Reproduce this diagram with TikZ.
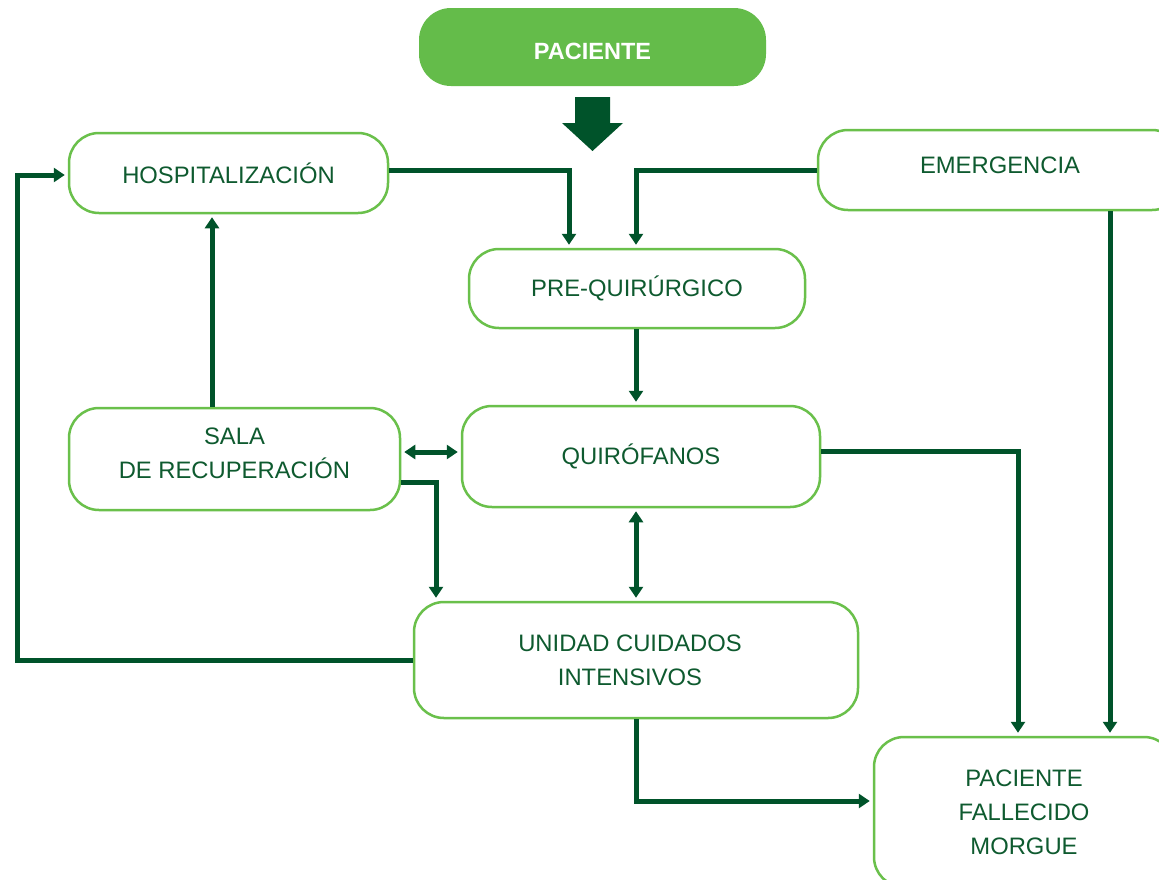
\documentclass[tikz,border=0pt]{standalone}
\usepackage{fontspec}
\setmainfont{Liberation Sans}
\usetikzlibrary{arrows.meta}
\definecolor{lightg}{HTML}{6AC04B}
\definecolor{fillg}{HTML}{64BC4A}
\definecolor{darkg}{HTML}{00532A}
\definecolor{textg}{HTML}{0E5A2F}
\tikzset{
  box/.style={draw=lightg, line width=2.5pt, rounded corners=30pt, fill=white,
    text=textg, align=center, inner sep=0pt,
    font=\fontsize{23.8}{34}\selectfont},
  topbox/.style={fill=fillg, draw=none, rounded corners=32pt, text=white,
    inner sep=0pt, font=\fontsize{23.5}{28}\selectfont\bfseries},
  conn/.style={draw=darkg, line width=5pt, -{Triangle[length=11pt,width=14pt]}, shorten >=3pt},
  dconn/.style={draw=darkg, line width=5pt, {Triangle[length=11pt,width=14pt]}-{Triangle[length=11pt,width=14pt]}, shorten >=3pt, shorten <=3pt}
}
\newcommand{\dn}[1]{\rule[-#1]{0pt}{1pt}}
\begin{document}
\begin{tikzpicture}[x=1pt,y=-1pt]
\useasboundingbox (0,0) rectangle (1159,879);
\clip (0,0) rectangle (1159,879);
\fill[white] (0,0) rectangle (1159,879);

\node[topbox, minimum width=347pt, minimum height=78pt] (pac) at (592.5,47) {\rule{0pt}{25pt}PACIENTE};
\fill[darkg] (575,97) -- (610,97) -- (610,123) -- (623,123) -- (592.5,151) -- (562,123) -- (575,123) -- cycle;

\node[box, minimum width=319pt, minimum height=80pt] (hosp) at (228.5,173) {HOSPITALIZACIÓN};
\node[box, minimum width=364pt, minimum height=80pt] (emer) at (1000,170) {EMERGENCIA\dn{9pt}};
\node[box, minimum width=336pt, minimum height=79pt] (pre) at (637,288.5) {PRE-QUIRÚRGICO};
\node[box, minimum width=331pt, minimum height=102pt] (sala) at (234.5,459) {SALA\\DE RECUPERACIÓN\dn{12pt}};
\node[box, minimum width=358pt, minimum height=101pt] (quir) at (641,456.5) {QUIRÓFANOS};
\node[box, minimum width=444pt, minimum height=116pt] (uci) at (636,660) {UNIDAD CUIDADOS\hspace*{12pt}\\INTENSIVOS\hspace*{12pt}};
\node[box, minimum width=300pt, minimum height=150pt] (morg) at (1024,812) {PACIENTE\\FALLECIDO\\MORGUE};

\coordinate (rail) at (17,0);
\coordinate (qw) at ([yshift=4.5pt]quir.west);

\draw[conn] ([yshift=3pt]hosp.east) -| ([xshift=-68pt]pre.north);
\draw[conn] (emer.west) -| ([xshift=-1pt]pre.north);
\draw[conn] ([xshift=110pt]emer.south) -- ([xshift=110pt]emer.south |- morg.north);
\draw[conn] ([xshift=-1pt]pre.south) -- ([xshift=-1pt]pre.south |- quir.north);
\draw[conn] ([xshift=-22.5pt]sala.north) -- ([xshift=-22.5pt]sala.north |- hosp.south);
\draw[dconn] (sala.east |- qw) -- (qw);
\draw[conn] ([yshift=-23pt]sala.east) -| ([xshift=-200pt]uci.north);
\draw[dconn] (quir.south -| uci.north) -- (uci.north);
\draw[conn] ([yshift=5.5pt]quir.east) -| ([xshift=-6pt]morg.north);
\draw[conn] (uci.west) -- (uci.west -| rail) |- ([yshift=-2pt]hosp.west);
\draw[conn] (uci.south) |- ([yshift=11pt]morg.west);
\end{tikzpicture}
\end{document}
